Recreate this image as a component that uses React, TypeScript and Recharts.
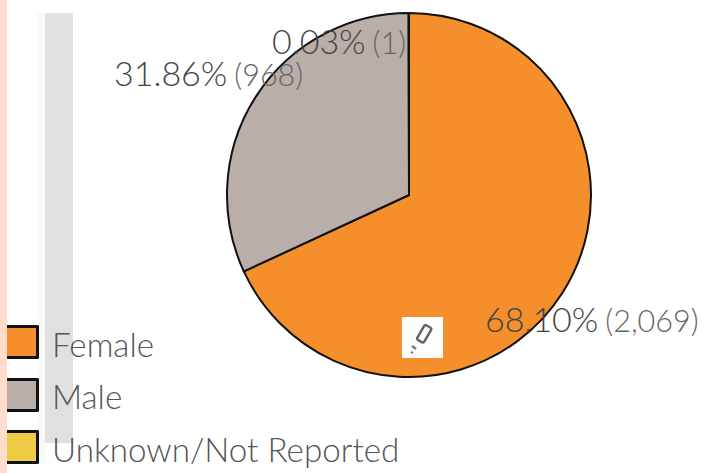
import { PieChart, Pie, Cell } from "recharts"

const categories = ["Female", "Male", "Unknown/Not Reported"]
const counts = [2069, 968, 1]
const percents = ["68.10%", "31.86%", "0.03%"]
const countLabels = ["(2,069)", "(968)", "(1)"]
const colors = ["#f58f2b", "#b9aea8", "#eecb45"]

const data = categories.map((name, i) => ({ name, value: counts[i] }))

// label anchors relative to the pie centre
const labelOffsets = [
  { x: 76, y: 137 },
  { x: -295, y: -109 },
  { x: -137, y: -141 },
]

const FONT = "Lato, 'Open Sans', sans-serif"

function renderLabel({ cx, cy, index }: any) {
  const off = labelOffsets[index]
  return (
    <text
      key={index}
      x={cx + off.x}
      y={cy + off.y}
      fontFamily={FONT}
      fontWeight={300}
      fill="#444"
    >
      <tspan fontSize={34}>{percents[index]}</tspan>
      <tspan fontSize={30.5} dx={7} fill="#666">
        {countLabels[index]}
      </tspan>
    </text>
  )
}

function PencilBadge() {
  return (
    <svg width={41} height={41} style={{ position: "absolute", left: 402, top: 317 }}>
      <rect width={41} height={41} fill="#fff" />
      <g transform="translate(21,19) rotate(30)" fill="none" stroke="#666" strokeWidth={2.5}>
        <rect x={-4} y={-11} width={8} height={17} rx={2} />
      </g>
      <path d="M10 29 L14 32 M9 35 L11 36" stroke="#777" strokeWidth={2.5} />
    </svg>
  )
}

function LegendList() {
  return (
    <div style={{ position: "absolute", left: 7, top: 324 }}>
      {categories.map((name, i) => (
        <div key={name} style={{ display: "flex", alignItems: "center", height: 52.5 }}>
          <div
            style={{
              width: 29,
              height: 28,
              background: colors[i],
              border: "3px solid #111",
              borderLeft: "none",
              borderRadius: "0 2px 2px 0",
              marginTop: -16,
            }}
          />
          <span
            style={{
              marginLeft: 13,
              marginTop: -13,
              fontFamily: FONT,
              fontSize: 33.2,
              fontWeight: 300,
              color: "#555",
              whiteSpace: "nowrap",
            }}
          >
            {name}
          </span>
        </div>
      ))}
    </div>
  )
}

export default function App() {
  return (
    <div style={{ position: "fixed", left: 0, top: 0, width: 702, height: 473, background: "#fff", overflow: "hidden" }}>
      <div style={{ position: "absolute", left: 0, top: 0, width: 7, height: 473, background: "#ffdccb" }} />
      <div style={{ position: "absolute", left: 38, top: 13, width: 7, height: 450, background: "#f8f8f8" }} />
      <div style={{ position: "absolute", left: 45, top: 13, width: 28, height: 430, background: "#e0e0e0" }} />
      <div style={{ position: "absolute", left: 0, top: 0 }}>
        <PieChart width={702} height={473} margin={{ top: 0, right: 0, bottom: 0, left: 0 }}>
          <Pie
            data={data}
            dataKey="value"
            cx={409}
            cy={195}
            outerRadius={182}
            startAngle={90}
            endAngle={-270}
            stroke="#111"
            strokeWidth={2}
            isAnimationActive={false}
            label={renderLabel}
            labelLine={false}
          >
            {data.map((d, i) => (
              <Cell key={d.name} fill={colors[i]} />
            ))}
          </Pie>
        </PieChart>
      </div>
      <PencilBadge />
      <LegendList />
    </div>
  )
}
